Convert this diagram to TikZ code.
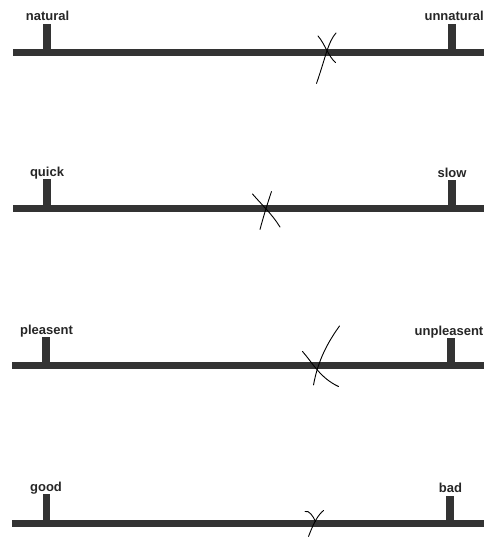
\documentclass[tikz,border=0pt]{standalone}
\usepackage{fontspec}
\setmainfont{Liberation Sans}
\begin{document}
\begin{tikzpicture}[x=1pt,y=-1pt,
  bar/.style={fill=black!80,draw=none},
  lbl/.style={font=\fontsize{13}{15}\selectfont\bfseries,text=black!85,inner sep=0pt,anchor=base},
  cross/.style={draw=black,line width=0.9pt,line cap=round}]
\useasboundingbox (0,0) rectangle (484,538);
% scale 1
\fill[bar] (13,49) rectangle (490,56);
\fill[bar] (43,24) rectangle (51,53);
\fill[bar] (448,24) rectangle (456,53);
\node[lbl] (natural) at (47.5,20) {natural};
\node[lbl,anchor=base east] (unnatural) at (484,20) {unnatural};
\draw[cross] (336,33) .. controls (328,42) and (326,56) .. (316.5,83.5);
\draw[cross] (318,36) .. controls (325,44) and (328,56) .. (335.5,62.5);
% scale 2
\fill[bar] (13,205) rectangle (490,212);
\fill[bar] (43,179) rectangle (51,208);
\fill[bar] (448,180) rectangle (456,208);
\node[lbl] (quick) at (47,176) {quick};
\node[lbl] (slow) at (452,177) {slow};
\draw[cross] (271.5,191.5) .. controls (267,205) and (263,218) .. (260,229.5);
\draw[cross] (252.5,194) .. controls (262,205) and (272,214) .. (280,227);
% scale 3
\fill[bar] (12,362) rectangle (490,369);
\fill[bar] (42,337) rectangle (50,365);
\fill[bar] (447,338) rectangle (455,365);
\node[lbl] (pleasent) at (46.5,334) {pleasent};
\node[lbl,anchor=base east] (unpleasent) at (483.5,335) {unpleasent};
\draw[cross] (339.5,326) .. controls (328,342) and (318,360) .. (313.5,385);
\draw[cross] (302.5,351.5) .. controls (312,362) and (320,378) .. (338.5,386.5);
% scale 4
\fill[bar] (12,519.5) rectangle (490,526.5);
\fill[bar] (43,494) rectangle (50,523);
\fill[bar] (446,496) rectangle (454,523);
\node[lbl] (good) at (46,491) {good};
\node[lbl] (bad) at (450.5,492) {bad};
\draw[cross] (323.5,510.5) .. controls (318,515) and (314,522) .. (308.5,536.5);
\draw[cross] (305,511.5) .. controls (309,510) and (313,516) .. (315.5,521.5);
\end{tikzpicture}
\end{document}
